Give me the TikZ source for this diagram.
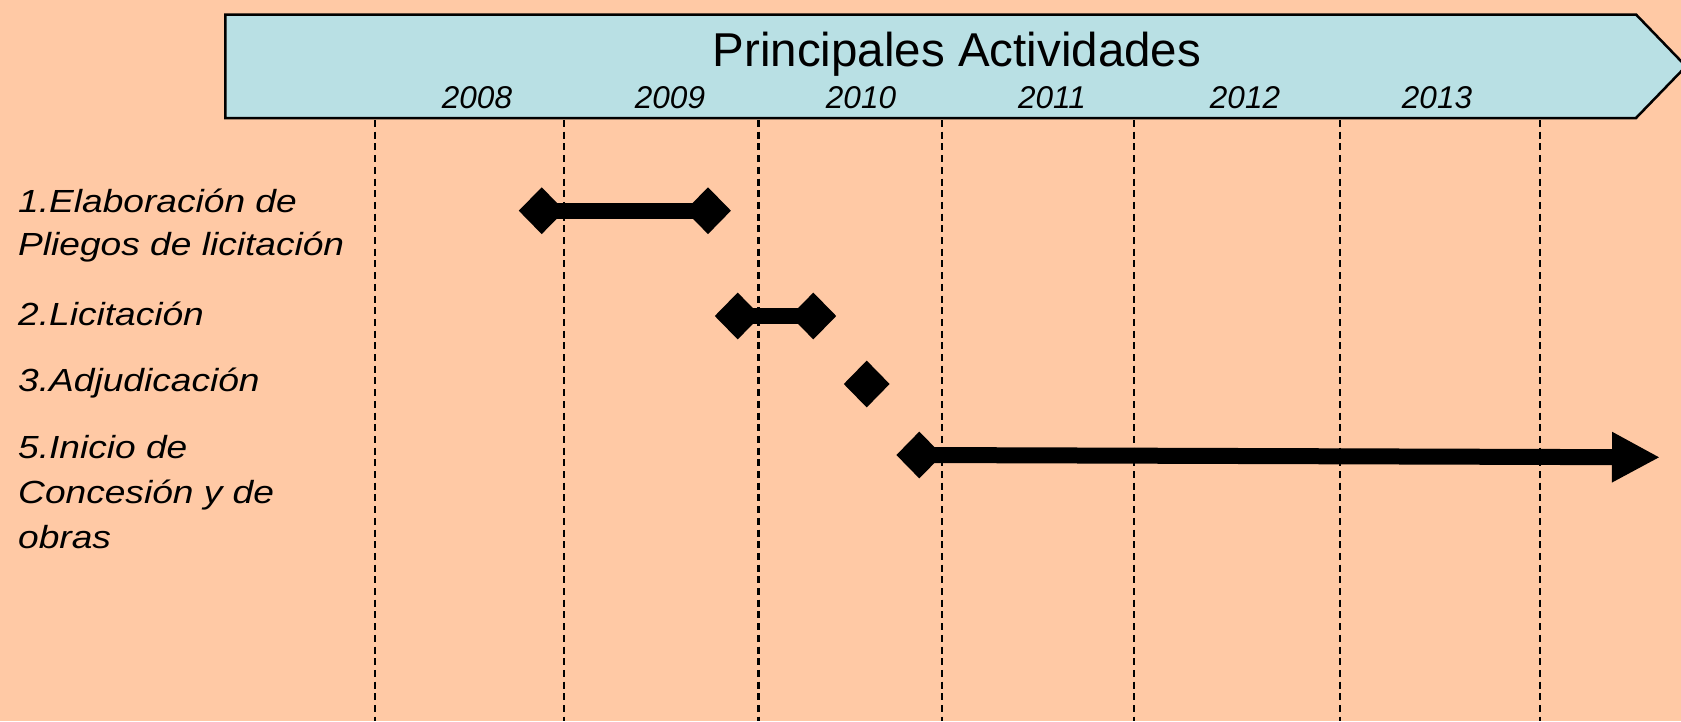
\documentclass[tikz,border=0pt]{standalone}
\usepackage{fontspec}
\setmainfont{Liberation Sans}
\newfontfamily\labfont[FakeStretch=1.16]{Liberation Sans}
\usetikzlibrary{shapes.geometric,arrows.meta}
\definecolor{bgpeach}{RGB}{255,201,165}
\definecolor{hdrblue}{RGB}{185,224,228}
\tikzset{
  grid/.style={line width=2.3pt, dash pattern=on 7pt off 4.7pt},
  gem/.style={diamond, fill=black, draw=none, inner sep=0pt, minimum width=46pt, minimum height=47pt},
  bar/.style={line width=16pt},
  year/.style={font=\fontsize{31.5}{36}\selectfont\itshape, anchor=base, inner sep=0pt},
  lab/.style={font=\labfont\fontsize{32}{36}\selectfont\itshape, anchor=base west, inner sep=0pt},
}
\begin{document}
\begin{tikzpicture}[x=1pt,y=-1pt]
\useasboundingbox (0,0) rectangle (1681,721);
\clip (0,0) rectangle (1681,721);
\fill[bgpeach] (0,0) rectangle (1681,721);
% header
\draw[line width=2.5pt, fill=hdrblue] (225.3,14.5) -- (1636,14.5) -- (1686,66.3) -- (1636,118) -- (225.3,118) -- cycle;
\node[anchor=base, inner sep=0pt, font=\fontsize{47.5}{54}\selectfont] (title) at (957,66.5) {Principales Actividades};
\node[year] (y2008) at (477,108) {2008};
\node[year] (y2009) at (670,108) {2009};
\node[year] (y2010) at (861,108) {2010};
\node[year] (y2011) at (1052,108) {2011};
\node[year] (y2012) at (1245,108) {2012};
\node[year] (y2013) at (1437,108) {2013};
% grid
\foreach \gx in {375,564,942,1134,1340,1540}
  \draw[grid] (\gx,120) -- (\gx,721);
\draw[grid, line width=3pt] (758,120) -- (758,721);
% labels
\node[lab] (l1a) at (18,212.3) {1.Elaboración de};
\node[lab] (l1b) at (18,255.5) {Pliegos de licitación};
\node[lab] (l2) at (18,325) {2.Licitación};
\node[lab] (l3) at (18,391.7) {3.Adjudicación};
\node[lab] (l5a) at (18,458) {5.Inicio de};
\node[lab] (l5b) at (18,503) {Concesión y de};
\node[lab] (l5c) at (18,548) {obras};
% diamonds
\node[gem] (d1a) at (541.7,210.7) {};
\node[gem] (d1b) at (708,210.7) {};
\node[gem] (d2a) at (737.7,316) {};
\node[gem] (d2b) at (813.3,316) {};
\node[gem] (d3) at (866.7,384) {};
\node[gem] (d4) at (919.3,455) {};
\coordinate (endtip) at (1660,457.3);
% bars
\draw[bar] (d1a.center) -- (d1b.center);
\draw[bar] (d2a.center) -- (d2b.center);
\draw[bar, -{Triangle[length=48pt,width=47pt]}] (d4.center) -- (endtip);
\end{tikzpicture}
\end{document}
